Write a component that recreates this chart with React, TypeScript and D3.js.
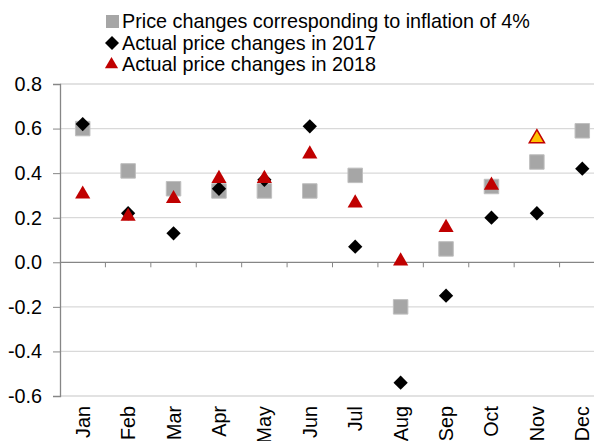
import React, { useEffect, useRef } from 'react';
import * as d3 from 'd3';

// Months on the x axis
const months = ['Jan', 'Feb', 'Mar', 'Apr', 'May', 'Jun', 'Jul', 'Aug', 'Sep', 'Oct', 'Nov', 'Dec'];

// Price changes corresponding to inflation of 4%
const inflation4 = [0.6, 0.41, 0.33, 0.32, 0.32, 0.32, 0.39, -0.2, 0.06, 0.34, 0.45, 0.59];
// Actual price changes in 2017
const actual2017 = [0.62, 0.22, 0.13, 0.33, 0.37, 0.61, 0.07, -0.54, -0.15, 0.2, 0.22, 0.42];
// Actual price changes in 2018 (no December yet)
const actual2018 = [0.31, 0.21, 0.29, 0.38, 0.38, 0.49, 0.27, 0.01, 0.16, 0.35, 0.56];

const yTicks = [0.8, 0.6, 0.4, 0.2, 0.0, -0.2, -0.4, -0.6];

const legendItems = [
  { label: 'Price changes corresponding to inflation of 4%', shape: 'square' },
  { label: 'Actual price changes in 2017', shape: 'diamond' },
  { label: 'Actual price changes in 2018', shape: 'triangle' },
];

const App = () => {
  const svgRef = useRef(null);

  useEffect(() => {
    const width = 594;
    const height = 441;
    const margin = { top: 84, left: 60, bottom: 45 };
    const font = 'Liberation Sans, Arial, sans-serif';
    const fontSize = 19.8;

    const svg = d3.select(svgRef.current);
    svg.selectAll('*').remove();

    // the original plot area runs past the right edge of the image
    const x = d3.scaleBand().domain(months).range([margin.left, 605]);
    const y = d3.scaleLinear().domain([-0.6, 0.8]).range([height - margin.bottom, margin.top]);

    const sym = (type, size) => d3.symbol().type(type).size(size)();

    // gridlines
    svg.append('g')
      .selectAll('line')
      .data(yTicks.filter((t) => t !== 0))
      .enter()
      .append('line')
      .attr('x1', margin.left)
      .attr('x2', width)
      .attr('y1', (d) => y(d))
      .attr('y2', (d) => y(d))
      .attr('stroke', '#d9d9d9')
      .attr('stroke-width', 1.3);

    // y axis (plain hyphen for negatives, like the original)
    const fmt = (d) => d3.format('.1f')(d).replace('\u2212', '-');
    const yAxis = d3.axisLeft(y).tickValues(yTicks).tickFormat(fmt).tickSize(7).tickPadding(11);
    const yg = svg.append('g').attr('transform', `translate(${margin.left},0)`).call(yAxis);
    yg.select('.domain').attr('stroke', '#868686').attr('stroke-width', 1.3);
    yg.selectAll('.tick line').attr('stroke', '#868686');
    yg.selectAll('.tick text')
      .attr('font-family', font)
      .attr('font-size', fontSize)
      .attr('fill', '#000');

    // x axis at zero, ticks between categories
    svg.append('line')
      .attr('x1', margin.left)
      .attr('x2', width)
      .attr('y1', y(0))
      .attr('y2', y(0))
      .attr('stroke', '#868686')
      .attr('stroke-width', 1.3);
    svg.append('g')
      .selectAll('line')
      .data(months.slice(1))
      .enter()
      .append('line')
      .attr('x1', (d) => x(d))
      .attr('x2', (d) => x(d))
      .attr('y1', y(0))
      .attr('y2', y(0) + 5)
      .attr('stroke', '#868686');

    // month labels, rotated
    svg.append('g')
      .selectAll('text')
      .data(months)
      .enter()
      .append('text')
      .attr('transform', (d) => `translate(${x(d) + x.bandwidth() / 2 + 7},${y(-0.6) + 10}) rotate(-90)`)
      .attr('text-anchor', 'end')
      .attr('font-family', font)
      .attr('font-size', fontSize)
      .text((d) => d);

    const cx = (i) => x(months[i]) + x.bandwidth() / 2;

    // gray squares
    svg.append('g')
      .selectAll('path')
      .data(inflation4)
      .enter()
      .append('path')
      .attr('d', sym(d3.symbolSquare, 210))
      .attr('transform', (d, i) => `translate(${cx(i)},${y(d)})`)
      .attr('fill', '#a6a6a6')
      .attr('stroke', '#bfbfbf')
      .attr('stroke-width', 1);

    // black diamonds
    svg.append('g')
      .selectAll('path')
      .data(actual2017)
      .enter()
      .append('path')
      .attr('d', sym(d3.symbolSquare, 102))
      .attr('transform', (d, i) => `translate(${cx(i)},${y(d)}) rotate(45)`)
      .attr('fill', '#000');

    // red triangles, November highlighted
    svg.append('g')
      .selectAll('path')
      .data(actual2018)
      .enter()
      .append('path')
      .attr('d', sym(d3.symbolTriangle, 100))
      .attr('transform', (d, i) => `translate(${cx(i)},${y(d) + 1})`)
      .attr('fill', (d, i) => (i === 10 ? '#ffc000' : '#c00000'))
      .attr('stroke', '#c00000')
      .attr('stroke-width', (d, i) => (i === 10 ? 1.5 : 0));

    // legend
    const lg = svg.append('g');
    legendItems.forEach((item, i) => {
      const ly = 21.5 + i * 21.5;
      const marker = lg.append('path');
      if (item.shape === 'square') {
        marker.attr('d', sym(d3.symbolSquare, 169)).attr('transform', `translate(112.5,${ly})`).attr('fill', '#a6a6a6');
      } else if (item.shape === 'diamond') {
        marker.attr('d', sym(d3.symbolSquare, 98)).attr('transform', `translate(112,${ly}) rotate(45)`).attr('fill', '#000');
      } else {
        marker.attr('d', sym(d3.symbolTriangle, 75)).attr('transform', `translate(111.5,${ly})`).attr('fill', '#c00000');
      }
      lg.append('text')
        .attr('x', 122)
        .attr('y', ly + 6.5)
        .attr('font-family', font)
        .attr('font-size', fontSize)
        .text(item.label);
    });
  }, []);

  return (
    <div style={{ position: 'absolute', left: 0, top: 0 }}>
      <svg ref={svgRef} width={594} height={441} style={{ display: 'block', background: '#fff' }} />
    </div>
  );
};

export default App;
